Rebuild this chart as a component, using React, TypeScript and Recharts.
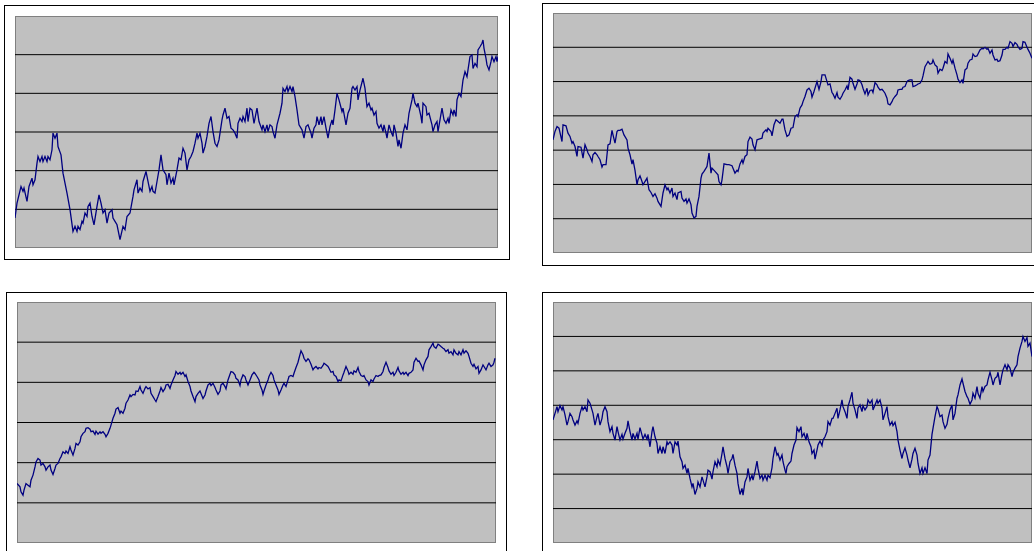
import React from "react";
import { LineChart, Line, XAxis, YAxis, ReferenceLine } from "recharts";

// ---------- Panel 1 (top-left) ----------
const p1Days = [
  0, 2, 6, 8, 9, 12, 14, 17, 18, 20, 22, 23, 25, 27, 28, 30, 32, 33, 35, 37,
  38, 40, 42, 43, 46, 48, 52, 55, 58, 60, 62, 63, 65, 67, 68, 70, 72, 73, 75, 77,
  79, 82, 84, 86, 88, 90, 92, 94, 97, 98, 100, 102, 105, 108, 110, 112, 115, 118, 119, 122,
  123, 125, 127, 128, 131, 133, 135, 137, 138, 140, 142, 144, 146, 148, 151, 152, 154, 156, 158, 159,
  162, 164, 166, 168, 170, 172, 174, 176, 178, 180, 182, 183, 185, 187, 188, 190, 192, 194, 196, 198,
  200, 202, 204, 207, 208, 210, 212, 214, 216, 218, 220, 222, 223, 225, 227, 228, 230, 232, 233,
  235, 237, 239, 242, 244, 247, 248, 250, 252, 253, 255, 257, 258, 260, 262, 265, 267, 268, 270, 272,
  273, 275, 277, 278, 280, 282, 284, 287, 289, 291, 293, 296, 297, 299, 301, 302, 304, 306, 307, 309,
  311, 313, 315, 317, 318, 320, 322, 324, 327, 328, 331, 333, 335, 337, 338, 340, 342, 343, 345, 348,
  350, 352, 354, 356, 357, 359, 361, 362, 364, 366, 368, 369, 371, 372, 374, 376, 378, 379, 381, 383,
  384, 386, 388, 390, 392, 394, 397, 398, 400, 402, 403, 406, 407, 408, 411, 412, 414, 417, 418, 420,
  422, 423, 425, 427, 429, 431, 433, 434, 436, 438, 439, 441, 442, 444, 446, 448, 450, 452, 453, 455,
  457, 458, 460, 462, 463, 465, 467, 468, 469, 471, 472, 474, 476, 477, 479, 481, 482, 483,
];
const p1Values = [
  15.5, 23.2, 31.8, 29.3, 31.0, 24.1, 31.8, 36.1, 32.7, 35.3, 43.9, 47.3, 44.7, 47.3, 44.7, 47.3, 44.7, 47.3, 45.6, 50.8,
  59.4, 56.8, 59.4, 52.5, 48.2, 38.7, 28.4, 19.8, 8.6, 11.2, 8.6, 11.2, 9.5, 13.8, 12.9, 18.1, 16.3, 21.5, 23.2, 16.3,
  12.0, 21.5, 27.5, 23.2, 18.1, 19.8, 12.9, 18.1, 19.8, 15.5, 13.8, 12.0, 4.3, 11.2, 9.5, 16.3, 18.1, 26.7, 30.1, 35.3,
  28.4, 31.0, 29.3, 34.4, 39.6, 34.4, 29.3, 31.8, 29.3, 28.4, 34.4, 40.4, 48.2, 40.4, 37.9, 32.7, 38.7, 33.6, 36.1, 32.7,
  40.4, 46.5, 45.6, 51.6, 49.1, 40.4, 45.6, 47.3, 49.9, 54.2, 59.4, 56.8, 59.4, 54.2, 49.1, 52.5, 57.7, 64.5, 68.0, 60.2,
  54.2, 52.5, 55.9, 66.3, 68.8, 72.3, 67.1, 68.0, 62.0, 61.1, 59.4, 56.8, 64.5, 67.1, 65.4, 68.0, 65.4, 72.3, 65.4,
  72.3, 71.4, 64.5, 72.3, 65.4, 61.1, 63.7, 60.2, 63.7, 60.2, 63.7, 62.8, 60.2, 56.8, 63.7, 69.7, 74.9, 82.6, 80.9, 83.5,
  80.9, 83.5, 80.9, 83.5, 78.3, 71.4, 63.7, 61.1, 56.8, 62.8, 63.7, 59.4, 56.8, 62.0, 63.7, 68.0, 63.7, 68.0, 63.7, 68.0,
  62.0, 56.8, 62.8, 66.3, 63.7, 71.4, 80.0, 76.6, 70.6, 72.3, 63.7, 69.7, 72.3, 82.6, 83.5, 81.7, 83.5, 76.6, 81.7, 87.8,
  82.6, 73.1, 74.9, 71.4, 72.3, 68.8, 70.6, 64.5, 62.0, 63.7, 60.2, 63.7, 59.4, 56.8, 63.7, 60.2, 57.7, 63.7, 59.4, 52.5,
  55.9, 51.6, 59.4, 63.7, 61.1, 69.7, 76.6, 80.0, 74.9, 73.1, 74.9, 68.0, 64.5, 74.9, 73.1, 68.8, 69.7, 63.7, 60.2, 63.7,
  65.4, 60.2, 66.3, 72.3, 66.3, 64.5, 67.1, 64.5, 71.4, 68.8, 71.4, 68.0, 76.6, 80.0, 78.3, 86.9, 91.2, 88.6, 92.1, 99.0,
  99.8, 92.9, 95.5, 93.8, 102.4, 104.1, 105.9, 107.6, 103.3, 98.1, 94.7, 92.1, 96.4, 99.0, 96.4, 99.0, 96.4, 99.0,
];

// ---------- Panel 2 (top-right) ----------
const p2Days = [
  0, 2, 4, 6, 9, 10, 13, 15, 17, 19, 20, 22, 24, 25, 28, 30, 32, 34, 35, 37,
  39, 40, 42, 44, 45, 47, 49, 50, 53, 55, 57, 59, 60, 62, 64, 65, 67, 69, 71, 74,
  75, 77, 79, 80, 82, 84, 85, 87, 89, 90, 93, 94, 96, 98, 100, 102, 104, 105, 108, 110,
  112, 114, 115, 117, 119, 120, 122, 124, 125, 128, 129, 131, 133, 134, 136, 138, 139, 141, 143, 144,
  146, 148, 149, 151, 153, 154, 156, 158, 159, 162, 165, 166, 168, 169, 171, 174, 176, 179, 180, 182,
  184, 185, 187, 189, 190, 192, 194, 195, 197, 199, 200, 202, 204, 206, 209, 210, 213, 214, 215, 218,
  219, 221, 223, 224, 227, 229, 230, 232, 234, 236, 238, 240, 242, 244, 245, 247, 249, 250, 252, 254,
  256, 258, 259, 261, 263, 264, 266, 268, 269, 272, 274, 275, 277, 279, 280, 282, 284, 285, 287, 289,
  290, 292, 294, 295, 297, 299, 300, 302, 304, 305, 307, 309, 310, 312, 314, 315, 317, 319, 320, 322,
  324, 325, 327, 329, 330, 332, 334, 335, 337, 339, 340, 342, 344, 345, 347, 349, 350, 352, 354, 355,
  357, 359, 360, 362, 364, 365, 367, 369, 370, 372, 374, 375, 377, 379, 380, 382, 384, 385, 387, 389,
  390, 392, 394, 395, 397, 399, 400, 402, 404, 405, 407, 409, 410, 412, 414, 415, 417, 419, 420, 422,
  424, 425, 427, 429, 430, 432, 434, 435, 437, 439, 440, 442, 444, 445, 447, 449, 450, 452, 454, 455,
  457, 459, 460, 462, 464, 465, 467, 469, 470, 472, 474, 475, 477, 479,
];
const p2Values = [
  66.0, 70.9, 73.8, 72.8, 65.0, 74.8, 74.2, 69.9, 68.0, 64.1, 65.0, 62.1, 56.3, 62.1, 61.7, 55.3, 63.1, 60.2, 58.3, 56.3,
  53.4, 57.3, 58.6, 57.3, 56.3, 54.4, 50.1, 51.5, 51.5, 63.1, 63.7, 71.5, 68.9, 64.1, 70.9, 71.5, 71.5, 72.2, 68.9, 66.0,
  61.2, 57.3, 51.8, 54.4, 48.2, 39.8, 42.7, 45.0, 41.7, 39.8, 42.7, 43.7, 36.9, 35.3, 33.0, 34.6, 32.0, 30.1, 27.2, 35.0,
  39.8, 36.9, 37.9, 35.0, 37.9, 33.0, 35.0, 31.1, 35.0, 35.9, 32.0, 30.1, 31.5, 29.1, 31.5, 28.2, 23.3, 20.4, 21.4, 27.2,
  33.0, 43.7, 46.0, 47.6, 49.5, 50.5, 58.3, 46.6, 49.5, 47.6, 45.6, 41.7, 39.8, 42.7, 52.0, 51.5, 51.5, 50.9, 49.5, 46.6,
  48.2, 47.6, 52.0, 54.4, 52.4, 56.3, 57.3, 65.0, 67.6, 66.4, 63.1, 60.2, 66.0, 66.4, 67.0, 69.9, 71.8, 70.9, 72.8, 70.9,
  68.3, 74.8, 77.7, 77.3, 75.7, 78.1, 78.1, 71.8, 68.0, 68.9, 72.8, 73.2, 79.6, 80.6, 79.6, 84.5, 86.4, 88.3, 91.3, 95.1,
  96.1, 94.2, 90.9, 94.2, 98.1, 100.0, 95.5, 100.0, 103.9, 103.9, 100.0, 98.1, 98.6, 93.6, 92.8, 90.3, 93.6, 90.9, 89.7, 91.7,
  93.2, 95.1, 97.5, 95.1, 102.5, 101.4, 99.0, 95.5, 98.6, 101.0, 100.6, 98.1, 96.1, 92.8, 96.1, 92.2, 94.8, 95.1, 93.6, 99.4,
  98.1, 96.7, 95.1, 95.5, 94.8, 93.2, 90.3, 87.0, 86.4, 88.3, 89.7, 91.3, 92.6, 95.1, 95.5, 95.5, 96.7, 97.1, 100.0, 100.6,
  101.0, 101.0, 97.1, 97.5, 98.1, 98.6, 99.0, 101.0, 103.3, 108.7, 110.7, 111.7, 110.1, 110.7, 112.6, 109.7, 108.7, 104.9, 107.2, 106.4,
  107.8, 111.7, 110.7, 116.1, 113.6, 110.7, 112.6, 107.8, 103.9, 101.4, 99.4, 101.0, 99.0, 106.8, 107.8, 110.7, 112.6, 113.0, 116.1, 114.6,
  115.0, 116.1, 118.4, 119.4, 119.0, 120.0, 118.8, 119.4, 116.5, 118.4, 115.5, 112.6, 113.0, 111.7, 112.2, 115.5, 118.8, 118.8, 120.0, 119.4,
  123.3, 122.3, 120.4, 122.7, 121.7, 120.4, 118.8, 119.4, 123.3, 122.9, 120.0, 118.8, 116.5, 113.6,
];

// ---------- Panel 3 (bottom-left) ----------
const p3Days = [
  0, 3, 4, 6, 7, 9, 11, 13, 14, 16, 18, 19, 21, 23, 24, 26, 28, 29, 31, 33,
  34, 36, 38, 39, 41, 43, 44, 46, 48, 49, 51, 53, 54, 56, 58, 59, 61, 63, 64, 66,
  68, 69, 71, 73, 74, 76, 78, 79, 81, 83, 84, 86, 88, 89, 91, 93, 94, 96, 98, 99,
  101, 103, 104, 106, 108, 109, 111, 113, 114, 116, 118, 119, 121, 123, 124, 126, 128, 129, 131, 133,
  134, 136, 138, 139, 141, 143, 144, 146, 148, 149, 151, 153, 154, 156, 158, 159, 161, 163, 164, 166,
  168, 169, 171, 173, 174, 176, 178, 179, 181, 183, 184, 186, 188, 189, 191, 193, 194, 196, 198, 199,
  201, 203, 204, 206, 208, 209, 211, 213, 214, 216, 218, 219, 221, 223, 224, 226, 228, 229, 231, 233,
  235, 237, 238, 240, 242, 243, 245, 246, 247, 249, 251, 252, 254, 256, 257, 259, 261, 262, 264, 266,
  267, 269, 271, 272, 274, 276, 277, 279, 281, 282, 284, 286, 287, 289, 291, 292, 294, 296, 297, 299,
  301, 302, 304, 306, 307, 309, 311, 312, 314, 316, 317, 319, 321, 322, 324, 326, 327, 329, 331, 332,
  334, 336, 337, 339, 341, 342, 344, 346, 347, 349, 351, 352, 354, 356, 357, 359, 361, 362, 364, 366,
  367, 369, 371, 372, 374, 376, 377, 379, 381, 382, 384, 386, 387, 389, 391, 392, 394, 396, 397, 399,
  401, 402, 404, 406, 407, 409, 411, 412, 414, 416, 417, 419, 421, 422, 424, 426, 427, 429, 431, 432,
  434, 436, 437, 439, 441, 442, 444, 446, 447, 449, 451, 452, 454, 456, 457, 459, 461, 462, 464, 466,
  467, 469, 471, 472, 474, 476, 477, 478,
];
const p3Values = [
  29.6, 28.0, 25.5, 23.8, 26.3, 29.6, 28.8, 28.0, 31.3, 33.8, 37.9, 40.4, 42.1, 41.3, 38.8, 39.6, 37.9, 36.3, 37.9, 38.8,
  36.3, 34.1, 37.1, 38.8, 39.6, 42.1, 42.9, 45.4, 44.6, 45.8, 44.6, 47.9, 46.3, 43.8, 47.1, 49.6, 48.8, 50.4, 52.9, 54.6,
  55.4, 57.1, 57.4, 56.7, 55.4, 55.7, 54.1, 55.7, 54.2, 55.4, 54.6, 55.4, 54.1, 52.9, 54.6, 57.1, 58.7, 62.1, 64.6, 66.7,
  67.4, 64.6, 65.7, 64.6, 67.1, 69.6, 71.2, 73.7, 72.9, 74.0, 73.7, 75.7, 75.4, 77.9, 76.2, 74.5, 77.0, 77.9, 76.7, 77.4,
  74.5, 72.9, 71.2, 70.4, 72.9, 75.7, 77.4, 75.4, 77.0, 78.7, 79.0, 77.0, 78.7, 81.2, 83.4, 85.4, 84.0, 85.0, 84.0, 85.0,
  82.9, 83.7, 80.4, 77.9, 75.7, 72.9, 70.4, 72.9, 74.5, 75.7, 74.5, 72.0, 73.7, 75.7, 78.7, 79.5, 78.4, 79.5, 77.4, 76.2,
  74.0, 75.7, 78.7, 79.5, 77.9, 76.7, 81.2, 84.0, 85.4, 85.0, 83.7, 82.0, 81.2, 78.4, 81.2, 83.7, 82.9, 81.2, 78.7, 81.2,
  83.7, 85.0, 84.5, 82.9, 81.2, 78.7, 76.2, 74.0, 75.7, 78.7, 81.2, 82.9, 85.0, 83.4, 81.2, 78.7, 76.2, 74.0, 76.2, 78.7,
  79.5, 77.9, 81.2, 82.9, 83.4, 82.9, 84.5, 87.4, 90.0, 92.0, 95.7, 93.7, 92.0, 90.4, 91.7, 91.2, 89.0, 86.2, 87.0, 87.9,
  86.7, 87.4, 87.0, 88.4, 89.5, 88.7, 87.9, 87.0, 85.0, 85.4, 83.7, 82.9, 80.4, 81.2, 80.7, 83.7, 85.0, 87.9, 85.7, 84.0,
  85.0, 84.0, 85.7, 85.0, 87.4, 85.4, 83.4, 82.9, 83.4, 81.2, 80.4, 78.7, 81.2, 80.4, 81.7, 83.4, 82.9, 83.4, 83.7, 85.4,
  87.4, 90.0, 87.4, 85.7, 84.0, 85.0, 83.4, 85.0, 87.4, 85.7, 84.0, 85.0, 84.0, 85.0, 83.4, 84.5, 85.0, 86.2, 90.0, 92.0,
  90.4, 90.7, 88.7, 86.2, 88.7, 91.2, 92.9, 96.2, 97.8, 99.5, 97.8, 97.0, 99.0, 98.7, 97.8, 97.0, 96.7, 95.3, 96.2, 94.5,
  95.3, 93.7, 96.2, 94.5, 93.7, 95.3, 93.7, 96.2, 94.5, 95.7, 94.5, 92.9, 89.5, 87.9, 89.0, 86.7, 87.9, 84.5, 86.2, 88.7,
  87.9, 86.2, 88.7, 89.5, 87.9, 88.7, 90.0, 92.0,
];

// ---------- Panel 4 (bottom-right) ----------
const p4Days = [
  0, 2, 4, 5, 7, 9, 10, 12, 14, 15, 17, 19, 20, 22, 24, 25, 27, 29, 30, 32,
  34, 35, 37, 39, 40, 42, 44, 45, 47, 49, 50, 52, 54, 55, 57, 59, 60, 62, 64, 65,
  67, 69, 70, 72, 74, 75, 77, 79, 80, 82, 84, 85, 87, 89, 90, 92, 94, 95, 97, 99,
  100, 102, 104, 105, 107, 109, 110, 112, 114, 115, 117, 119, 120, 122, 124, 125, 127, 129, 130, 132,
  134, 135, 137, 139, 140, 142, 144, 145, 147, 149, 150, 152, 154, 155, 157, 159, 160, 162, 164, 165,
  167, 169, 170, 172, 174, 175, 177, 179, 180, 182, 184, 185, 187, 189, 190, 192, 194, 195, 197, 199,
  200, 202, 204, 205, 207, 209, 210, 212, 214, 215, 217, 219, 220, 222, 224, 225, 227, 229, 230, 232,
  233, 234, 236, 238, 239, 241, 243, 244, 246, 248, 249, 251, 253, 254, 256, 258, 259, 261, 262, 264,
  265, 267, 269, 270, 272, 274, 275, 277, 279, 280, 282, 284, 285, 287, 289, 290, 292, 294, 295, 297,
  299, 300, 302, 304, 305, 307, 309, 310, 312, 314, 315, 317, 319, 320, 322, 324, 325, 327, 329, 330,
  332, 334, 335, 337, 339, 340, 342, 344, 345, 347, 349, 350, 352, 354, 355, 357, 359, 360, 362, 364,
  365, 367, 369, 370, 372, 374, 375, 377, 379, 380, 382, 384, 385, 387, 389, 390, 392, 394, 395, 397,
  399, 400, 402, 404, 405, 407, 409, 410, 412, 414, 415, 417, 419, 420, 422, 424, 425, 427, 429, 430,
  432, 434, 435, 437, 439, 440, 442, 444, 445, 447, 449, 450, 452, 454, 455, 457, 459, 460, 462, 464,
  465, 467, 469, 470, 472, 474, 475, 477, 479,
];
const p4Values = [
  71.5, 75.3, 79.2, 76.3, 79.8, 77.3, 79.2, 74.4, 68.5, 70.5, 75.3, 73.4, 71.5, 68.5, 70.9, 69.5, 75.3, 79.2, 77.3, 79.2,
  76.3, 83.1, 81.2, 77.3, 75.3, 68.5, 73.4, 75.3, 68.5, 72.4, 76.3, 79.2, 76.3, 70.5, 64.7, 67.6, 63.7, 59.8, 67.6, 64.7,
  59.8, 63.1, 60.4, 63.7, 66.6, 70.9, 64.7, 59.8, 63.7, 60.4, 63.7, 60.4, 67.0, 62.7, 60.4, 63.1, 60.4, 63.1, 55.9, 64.7,
  67.6, 61.7, 57.9, 52.0, 55.9, 52.0, 55.9, 52.0, 58.8, 57.3, 58.8, 56.9, 52.0, 58.8, 56.9, 59.2, 50.1, 47.2, 43.3, 45.2,
  40.4, 43.3, 37.5, 32.6, 34.6, 28.2, 31.7, 35.5, 32.6, 38.4, 36.5, 32.6, 38.4, 42.3, 41.4, 37.1, 41.4, 47.2, 44.3, 48.2,
  45.2, 52.0, 55.9, 49.1, 44.3, 40.4, 47.2, 49.1, 51.5, 45.2, 40.4, 34.6, 28.2, 31.7, 27.8, 35.5, 38.4, 43.3, 36.5, 39.4,
  36.5, 41.4, 47.6, 43.3, 37.5, 39.4, 36.5, 39.4, 36.5, 39.4, 37.9, 43.7, 49.1, 55.9, 51.1, 52.0, 48.2, 51.1, 47.2, 42.3,
  40.4, 44.3, 46.2, 47.6, 52.0, 56.9, 59.8, 67.0, 64.7, 67.6, 61.7, 63.7, 59.8, 63.7, 58.8, 55.9, 52.0, 54.0, 48.7, 54.0,
  56.9, 59.2, 56.5, 59.8, 61.7, 64.7, 70.5, 68.5, 72.4, 72.4, 75.3, 78.3, 72.4, 77.3, 83.1, 79.2, 76.3, 72.4, 79.2, 83.1,
  87.6, 81.2, 77.3, 72.4, 78.3, 80.2, 76.3, 79.8, 77.3, 79.2, 83.1, 81.2, 83.1, 77.3, 80.2, 83.1, 81.2, 83.1, 78.3, 71.5,
  75.3, 79.2, 73.4, 68.5, 70.5, 68.2, 70.1, 64.7, 59.8, 54.0, 49.1, 52.0, 55.3, 51.1, 48.2, 43.7, 48.7, 52.0, 55.0, 51.1,
  46.2, 40.4, 43.7, 40.4, 43.7, 40.4, 48.2, 51.1, 63.1, 66.6, 73.4, 79.2, 77.9, 73.4, 74.4, 70.5, 66.6, 68.9, 72.4, 77.3,
  80.2, 71.5, 75.3, 84.1, 86.0, 91.8, 95.3, 92.8, 88.0, 85.0, 84.1, 80.6, 83.1, 87.0, 84.1, 90.9, 87.0, 84.1, 90.9, 88.0,
  90.9, 91.8, 94.8, 99.2, 94.8, 91.8, 95.7, 96.7, 99.2, 91.8, 98.1, 100.6, 103.5, 100.6, 103.5, 101.6, 96.7, 99.2, 101.6, 103.5,
  108.3, 113.2, 117.1, 120.0, 117.1, 119.4, 114.2, 116.1, 108.3,
];

const gridTicks6 = [20, 40, 60, 80, 100];
const gridTicks7 = [20, 40, 60, 80, 100, 120];

type Pt = { day: number; value: number };
function buildSeries(days: number[], values: number[]): Pt[] {
  const n = Math.min(days.length, values.length);
  const out: Pt[] = [];
  for (let i = 0; i < n; i++) out.push({ day: days[i], value: values[i] });
  return out;
}

type PanelProps = {
  frame: { left: number; top: number; width: number; height: number };
  plot: { left: number; top: number; width: number; height: number };
  days: number[];
  values: number[];
  dayMax: number;
  valueMax: number;
  grid: number[];
};

function Panel({ frame, plot, days, values, dayMax, valueMax, grid }: PanelProps) {
  const data = buildSeries(days, values);
  return (
    <>
      <div
        style={{
          position: "absolute",
          left: frame.left,
          top: frame.top,
          width: frame.width,
          height: frame.height,
          border: "1px solid #000",
          boxSizing: "border-box",
          background: "#fff",
        }}
      />
      <div
        style={{
          position: "absolute",
          left: plot.left,
          top: plot.top,
          width: plot.width,
          height: plot.height,
          background: "#C0C0C0",
          boxShadow: "inset 0 0 0 1px #808080",
        }}
      >
        <LineChart
          width={plot.width}
          height={plot.height}
          data={data}
          margin={{ top: 0, right: 0, bottom: 0, left: 0 }}
        >
          <XAxis type="number" dataKey="day" domain={[0, dayMax]} hide />
          <YAxis type="number" domain={[0, valueMax]} hide />
          {grid.map((g) => (
            <ReferenceLine key={g} y={g} stroke="#000" strokeWidth={1} />
          ))}
          <Line
            type="linear"
            dataKey="value"
            stroke="#000080"
            strokeWidth={1.3}
            dot={false}
            activeDot={false}
            isAnimationActive={false}
          />
        </LineChart>
      </div>
    </>
  );
}

export default function App() {
  return (
    <div
      style={{
        position: "absolute",
        left: 0,
        top: 0,
        width: 1034,
        height: 551,
        overflow: "hidden",
        background: "#fff",
        fontFamily: "Arial, 'Liberation Sans', sans-serif",
      }}
    >
      <Panel
        frame={{ left: 4, top: 5, width: 506, height: 255 }}
        plot={{ left: 15, top: 16, width: 483, height: 232 }}
        days={p1Days}
        values={p1Values}
        dayMax={483}
        valueMax={120}
        grid={gridTicks6}
      />
      <Panel
        frame={{ left: 542, top: 3, width: 520, height: 263 }}
        plot={{ left: 553, top: 13, width: 479, height: 240 }}
        days={p2Days}
        values={p2Values}
        dayMax={479}
        valueMax={140}
        grid={gridTicks7}
      />
      <Panel
        frame={{ left: 6, top: 292, width: 501, height: 300 }}
        plot={{ left: 17, top: 302, width: 479, height: 241 }}
        days={p3Days}
        values={p3Values}
        dayMax={479}
        valueMax={120}
        grid={gridTicks6}
      />
      <Panel
        frame={{ left: 542, top: 292, width: 520, height: 300 }}
        plot={{ left: 553, top: 302, width: 479, height: 241 }}
        days={p4Days}
        values={p4Values}
        dayMax={479}
        valueMax={140}
        grid={gridTicks7}
      />
    </div>
  );
}
